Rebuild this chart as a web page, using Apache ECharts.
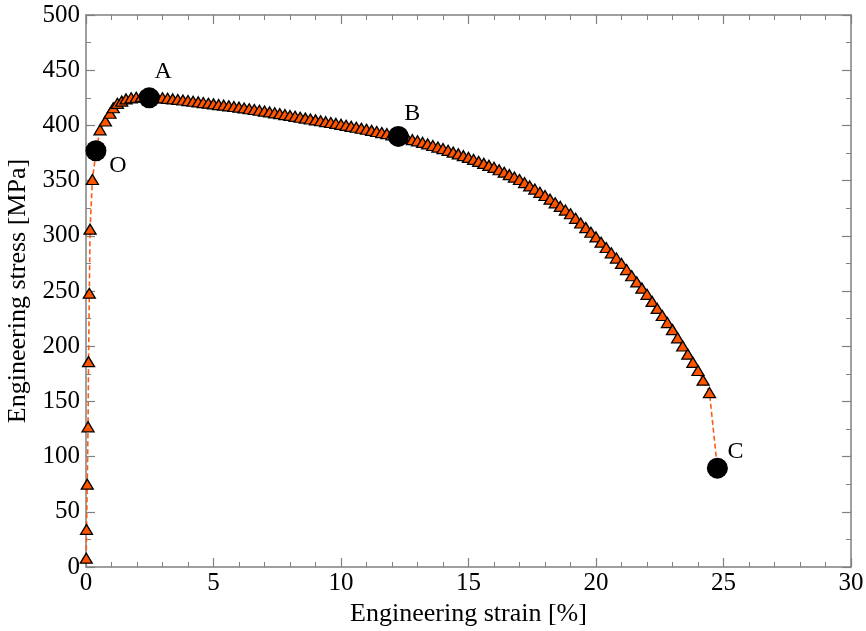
<!DOCTYPE html>
<html>
<head>
<meta charset="utf-8">
<script src="https://cdn.jsdelivr.net/npm/echarts@6/dist/echarts.min.js"></script>
<style>html,body{margin:0;padding:0;background:#fff;}#c{width:866px;height:631px;}</style>
</head>
<body>
<div id="c"></div>
<script>
// ---- data ----
const strain = [0.01,0.02,0.05,0.08,0.10,0.13,0.16,0.25,0.40,0.55,0.76,0.94,1.07,1.23,1.40,1.57,1.77,1.97,2.17,2.37,
  2.6,2.8,3.0,3.2,3.4,3.6,3.8,4.0,4.2,4.4,4.6,4.8,5.0,5.2,5.4,5.6,5.8,6.0,6.2,6.4,6.6,6.8,7.0,7.2,7.4,7.6,7.8,
  8.0,8.2,8.4,8.6,8.8,9.0,9.2,9.4,9.6,9.8,10.0,10.2,10.4,10.6,10.8,11.0,11.2,11.4,11.6,11.8,12.0,12.2,12.4,12.6,12.8,
  13.0,13.2,13.4,13.6,13.8,14.0,14.2,14.4,14.6,14.8,15.0,15.2,15.4,15.6,15.8,16.0,16.2,16.4,16.6,16.8,17.0,17.2,17.4,
  17.6,17.8,18.0,18.2,18.4,18.6,18.8,19.0,19.2,19.4,19.6,19.8,20.0,20.2,20.4,20.6,20.8,21.0,21.2,21.4,21.6,21.8,
  22.0,22.2,22.4,22.6,22.8,23.0,23.2,23.4,23.6,23.8,24.0,24.2,24.45];
const stress = [8,34,75,127,186,248,306,351,377,396,404,411,416,420,422,424,425,425.5,426,425.8,
  425.4,425.2,425.0,424.5,424.0,423.5,423.0,422.5,421.9,421.3,420.7,420.1,419.5,418.9,418.3,417.7,417.1,416.5,415.8,415.1,414.4,413.7,413.0,412.2,411.4,410.6,409.8,
  409.0,408.2,407.4,406.6,405.8,405.0,404.2,403.4,402.6,401.8,401.0,400.1,399.2,398.3,397.4,396.5,395.5,394.5,393.5,392.5,391.5,390.4,389.3,388.2,387.1,
  386.0,384.6,383.2,381.8,380.4,379.0,377.4,375.8,374.2,372.6,371.0,369.2,367.4,365.6,363.8,362.0,359.8,357.6,355.4,353.2,351.0,348.1,345.2,
  342.3,339.4,336.5,333.2,329.9,326.6,323.3,320.0,315.8,311.6,307.4,303.2,299.0,294.2,289.4,284.6,279.8,275.0,269.4,263.8,258.2,252.6,
  247.0,240.6,234.2,227.8,221.4,215.0,207.6,200.2,192.8,185.4,178.0,169.2,158.0];
const keyNames = ['O','A','B','C'];
const keyStrain = [0.39, 2.48, 12.25, 24.76];
const keyStress = [377, 425, 390, 89.5];
const xTicks = [0,5,10,15,20,25,30];
const yTicks = [0,50,100,150,200,250,300,350,400,450,500];

// ---- build ----
const FONT = 'Liberation Serif';
const tri = strain.map((x,i)=>[x, stress[i]]);
const linePts = tri.concat([[keyStrain[3], keyStress[3]]]);
const labelOffsets = {O:[22,15], A:[14,-26], B:[14,-23], C:[18,-16]};
const keys = keyNames.map((n,i)=>({
  value:[keyStrain[i], keyStress[i]], name:n,
  label:{show:true, formatter:n, position:'inside', offset:labelOffsets[n],
         fontFamily:FONT, fontSize:24, color:'#000'}
}));

const axisColor = '#808080';
function xAx(pos, showLabel){
  return {type:'value', position:pos, min:0, max:30, interval:5,
    axisLine:{show:true, onZero:false, lineStyle:{color:axisColor, width:1.5}},
    axisTick:{show:true, inside:true, length:9, lineStyle:{color:axisColor, width:1.2}},
    minorTick:{show:true, splitNumber:5, length:5, lineStyle:{color:axisColor, width:1}},
    splitLine:{show:false},
    axisLabel:{show:showLabel, fontFamily:FONT, fontSize:25, color:'#000', margin:4,
      formatter:v=>xTicks.includes(v)?String(v):''},
    name: showLabel?'Engineering strain [%]':'', nameLocation:'middle', nameGap:32,
    nameTextStyle:{fontFamily:FONT, fontSize:26, color:'#000'}
  };
}
function yAx(pos, showLabel){
  return {type:'value', position:pos, min:0, max:500, interval:50,
    axisLine:{show:true, onZero:false, lineStyle:{color:axisColor, width:1.5}},
    axisTick:{show:true, inside:true, length:9, lineStyle:{color:axisColor, width:1.2}},
    minorTick:{show:true, splitNumber:2, length:5, lineStyle:{color:axisColor, width:1}},
    splitLine:{show:false},
    axisLabel:{show:showLabel, fontFamily:FONT, fontSize:25, color:'#000', margin:6,
      formatter:v=>yTicks.includes(v)?String(v):''},
    name: showLabel?'Engineering stress [MPa]':'', nameLocation:'middle', nameGap:52,
    nameTextStyle:{fontFamily:FONT, fontSize:26, color:'#000'}
  };
}

const chart = echarts.init(document.getElementById('c'), null, {renderer:'canvas'});
chart.setOption({
  backgroundColor:'#fff',
  animation:false,
  grid:{left:86, right:15, top:15, bottom:64, containLabel:false, outerBoundsMode:'none'},
  xAxis:[xAx('bottom', true), xAx('top', false)],
  yAxis:[yAx('left', true), yAx('right', false)],
  series:[
    {type:'line', data:linePts, showSymbol:false, symbol:'none', z:2,
      lineStyle:{color:'#FF5A14', width:1.6, type:[5,3]}},
    {type:'scatter', data:tri, symbol:'triangle', symbolSize:[12,10], z:3,
      itemStyle:{color:'#FF5500', borderColor:'#000', borderWidth:1.3, opacity:1}},
    {type:'scatter', data:keys, symbol:'circle', symbolSize:21, z:4,
      itemStyle:{color:'#000', opacity:1}}
  ]
});
</script>
</body>
</html>
